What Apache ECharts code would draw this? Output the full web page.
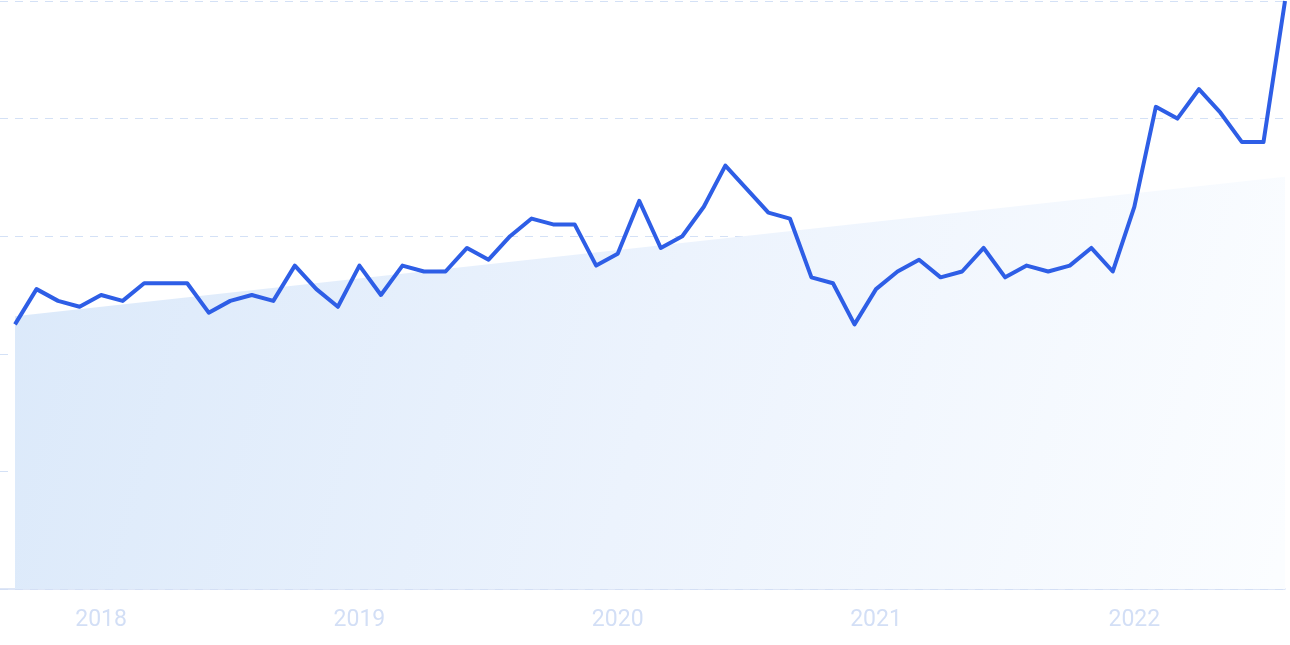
<!DOCTYPE html>
<html>
<head>
<meta charset="utf-8">
<script src="https://cdn.jsdelivr.net/npm/echarts@6/dist/echarts.min.js"></script>
<style>
  html, body { margin: 0; padding: 0; background: #ffffff; }
  #chart { width: 1290px; height: 645px; }
</style>
</head>
<body>
<div id="chart"></div>
<script>
// Monthly values, Sep 2017 .. Aug 2022 (index 0..59)
const values = [45, 51, 49, 48, 50, 49, 52, 52, 52, 47, 49, 50,
                49, 55, 51, 48, 55, 50, 55, 54, 54, 58, 56, 60,
                63, 62, 62, 55, 57, 66, 58, 60, 65, 72, 68, 64,
                63, 53, 52, 45, 51, 54, 56, 53, 54, 58, 53, 55,
                54, 55, 58, 54, 65, 82, 80, 85, 81, 76, 76, 100];
// Trend line: value at first and last month
const trendEnds = [46.4, 70.1];
// Year tick labels and the month index they sit on (January)
const yearLabels = ['2018', '2019', '2020', '2021', '2022'];
const yearIndex = [4, 16, 28, 40, 52];

const lastIdx = values.length - 1;
const lineData = values.map((v, i) => [i, v]);
const trendData = [[0, trendEnds[0]], [lastIdx, trendEnds[1]]];
const labelMap = {};
yearIndex.forEach((idx, k) => { labelMap[idx] = yearLabels[k]; });

const chart = echarts.init(document.getElementById('chart'), null, { renderer: 'canvas' });
chart.setOption({
  animation: false,
  backgroundColor: '#ffffff',
  grid: { left: 0, right: 5, top: 1, bottom: 56, containLabel: false },
  xAxis: {
    type: 'value',
    min: -0.697,
    max: lastIdx,
    axisLine: { show: true, lineStyle: { color: '#d3def4', width: 1.5 } },
    axisTick: { show: false },
    splitLine: { show: false },
    axisLabel: {
      show: true,
      customValues: yearIndex,
      formatter: v => labelMap[Math.round(v)] || '',
      color: '#d3dff6',
      fontFamily: 'Roboto',
      fontSize: 23,
      margin: 20
    }
  },
  yAxis: {
    type: 'value',
    min: 0,
    max: 100,
    interval: 20,
    axisLine: { show: false },
    axisTick: { show: false },
    axisLabel: { show: false },
    splitLine: {
      show: true,
      lineStyle: { color: '#d4e1f6', width: 1, type: [8, 7] }
    }
  },
  series: [
    {
      type: 'line',
      data: trendData,
      symbol: 'none',
      lineStyle: { width: 0, opacity: 0 },
      areaStyle: {
        color: new echarts.graphic.LinearGradient(0, 0.1, 1, 0.9, [
          { offset: 0, color: '#dbe9fa' },
          { offset: 0.5, color: '#ecf3fd' },
          { offset: 1, color: '#fbfdff' }
        ]),
        opacity: 1
      },
      silent: true,
      z: 1
    },
    {
      type: 'line',
      data: lineData,
      symbol: 'none',
      smooth: false,
      lineStyle: { color: '#2e5ee6', width: 4, join: 'round' },
      z: 3
    }
  ]
});
</script>
</body>
</html>
